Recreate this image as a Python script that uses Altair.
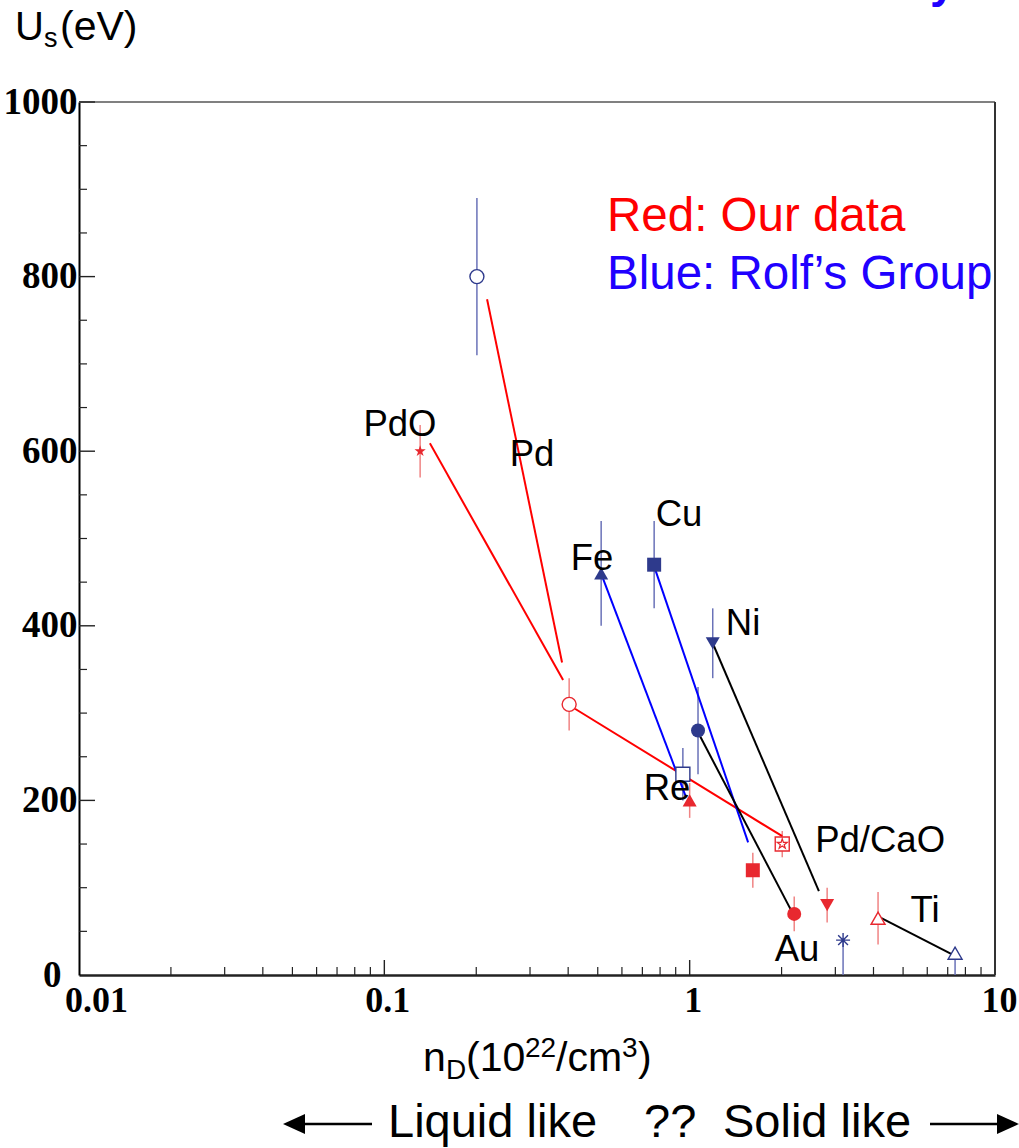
import altair as alt
import pandas as pd

PLOT_W, PLOT_H = 916, 873

# ---------------- data ----------------
# Rolf's group (blue)
rolf_names  = ["Pd", "Fe", "Cu", "Ni", "Au", "Re", "Ti", "unlabeled"]
rolf_nD     = [0.201, 0.513, 0.765, 1.19, 1.065, 0.95, 7.4, 3.18]
rolf_Us     = [800, 460, 470, 380, 280, 230, 25, 40]
rolf_err_up = [90, 60, 50, 40, 50, 30, 0, 0]
rolf_err_dn = [90, 60, 50, 40, 50, 30, 25, 40]

# Our data (red)
our_names = ["PdO", "Pd", "Re", "Cu", "Au", "Ni", "Pd/CaO", "Ti"]
our_nD    = [0.131, 0.403, 1.0, 1.61, 2.2, 2.82, 2.01, 4.14]
our_Us    = [600, 310, 200, 120, 70, 80, 150, 65]
our_err   = [30, 30, 20, 20, 20, 20, 15, 30]

# connecting lines
link_kind = ["ours", "ours", "ours", "rolf", "rolf", "cross", "cross", "cross"]
link_x1 = [0.217, 0.141, 0.421, 0.51, 0.765, 1.19, 1.065, 4.2]
link_y1 = [774, 609, 305, 462, 468, 380, 278, 66]
link_x2 = [0.382, 0.385, 2.01, 0.97, 1.554, 2.65, 2.21, 7.29]
link_y2 = [358, 338, 159, 205, 152, 96, 66, 23]

# element labels
label_text = ["PdO", "Pd", "Fe", "Cu", "Ni", "Re", "Pd/CaO", "Ti", "Au"]
label_nD   = [0.1125, 0.3046, 0.479, 0.923, 1.496, 0.843, 4.205, 5.90, 2.247]
label_Us   = [630, 596, 476, 527, 402, 213, 153, 73, 29]

x_tick_labels = [0.01, 0.1, 1, 10]
y_tick_labels = [0, 200, 400, 600, 800, 1000]

# ---------------- styles ----------------
RED_LINE, BLUE_LINE = "#ff0000", "#0000ff"
RED_MARK, RED_ERR = "#e8282f", "#f08484"
BLUE_MARK, BLUE_ERR = "#2e3a8c", "#6a72b8"
RED_TEXT, BLUE_TEXT = "#ff0000", "#2000ff"
SANS = "Liberation Sans"
SERIF = "Liberation Serif"

ASTERISK = "M-1,0L1,0M0,-1L0,1M-0.7,-0.7L0.7,0.7M-0.7,0.7L0.7,-0.7"
STAR = ("M0,-1L0.2245,-0.309L0.951,-0.309L0.363,0.118L0.588,0.809L0,0.382"
        "L-0.588,0.809L-0.363,0.118L-0.951,-0.309L-0.2245,-0.309Z")

rolf_shape = {"Pd": "circle", "Fe": "triangle-up", "Cu": "square", "Ni": "triangle-down",
              "Au": "circle", "Re": "square", "Ti": "triangle-up", "unlabeled": ASTERISK}
rolf_filled = {"Fe", "Cu", "Ni", "Au"}
our_shape = {"PdO": STAR, "Pd": "circle", "Re": "triangle-up", "Cu": "square",
             "Au": "circle", "Ni": "triangle-down", "Pd/CaO": "square", "Ti": "triangle-up"}
our_filled = {"PdO", "Re", "Cu", "Au", "Ni"}

rolf = pd.DataFrame({"name": rolf_names, "nD": rolf_nD, "Us": rolf_Us})
rolf["lo"] = [u - d for u, d in zip(rolf_Us, rolf_err_dn)]
rolf["hi"] = [u + d for u, d in zip(rolf_Us, rolf_err_up)]
rolf["shape"] = [rolf_shape[n] for n in rolf_names]
rolf["filled"] = [n in rolf_filled for n in rolf_names]

ours = pd.DataFrame({"name": our_names, "nD": our_nD, "Us": our_Us})
ours["lo"] = [u - e for u, e in zip(our_Us, our_err)]
ours["hi"] = [u + e for u, e in zip(our_Us, our_err)]
ours["shape"] = [our_shape[n] for n in our_names]
ours["filled"] = [n in our_filled for n in our_names]

links = pd.DataFrame({"kind": link_kind, "x1": link_x1, "y1": link_y1,
                      "x2": link_x2, "y2": link_y2})
labels = pd.DataFrame({"t": label_text, "nD": label_nD, "Us": label_Us})

x_minor = [m * 10.0 ** e for e in (-2, -1, 0) for m in range(2, 10)]
x_major = [0.1, 1]
y_minor = [v for v in range(50, 1000, 50) if v % 200]
y_major = [200, 400, 600, 800, 1000]

xscale = alt.Scale(type="log", domain=[0.01, 10])
yscale = alt.Scale(domain=[0, 1000])

x_axis = alt.Axis(values=x_tick_labels, format="~g", ticks=False, tickSize=0, grid=False,
                  labelFlush=False, labelOverlap=False, labelPadding=8,
                  labelOffset={"condition": [{"test": "datum.value < 0.05", "value": 17},
                                             {"test": "datum.value > 5", "value": 4}],
                               "value": 3},
                  labelFont=SERIF, labelFontWeight="bold", labelFontSize=36,
                  labelColor="black", domainColor="#222", domainWidth=2.5, title=None)
y_axis = alt.Axis(values=y_tick_labels, format="d", ticks=False, tickSize=0, grid=False,
                  labelPadding={"condition": {"test": "datum.value == 0", "value": 18},
                                "value": 2},
                  labelFont=SERIF, labelFontWeight="bold",
                  labelFontSize=37, labelColor="black", domainColor="black",
                  domainWidth=2, title=None)


def X(f):
    return alt.X(f, type="quantitative", scale=xscale, axis=x_axis)


def Y(f):
    return alt.Y(f, type="quantitative", scale=yscale, axis=y_axis)


one = pd.DataFrame({"k": [0]})

# frame lines (top gray, right dark)
top_line = alt.Chart(one).mark_rule(color="#808080", strokeWidth=2).encode(
    x=alt.value(0), x2=alt.value(PLOT_W), y=alt.value(0))
right_line = alt.Chart(one).mark_rule(color="#333333", strokeWidth=2).encode(
    x=alt.value(PLOT_W), y=alt.value(0), y2=alt.value(PLOT_H))

# inward ticks
xt_minor = alt.Chart(pd.DataFrame({"v": x_minor})).mark_rule(color="#222", strokeWidth=1.2).encode(
    x=X("v"), y=alt.value(PLOT_H), y2=alt.value(PLOT_H - 8))
xt_major = alt.Chart(pd.DataFrame({"v": x_major})).mark_rule(color="#222", strokeWidth=1.4).encode(
    x=X("v"), y=alt.value(PLOT_H), y2=alt.value(PLOT_H - 15))
yt_minor = alt.Chart(pd.DataFrame({"v": y_minor})).mark_rule(color="#222", strokeWidth=1.2).encode(
    y=Y("v"), x=alt.value(0), x2=alt.value(8))
yt_major = alt.Chart(pd.DataFrame({"v": y_major})).mark_rule(color="#222", strokeWidth=1.4).encode(
    y=Y("v"), x=alt.value(0), x2=alt.value(16))

# connecting lines
link_layer = alt.Chart(links).mark_rule(strokeWidth=2).encode(
    x=X("x1"), x2="x2", y=Y("y1"), y2="y2",
    color=alt.Color("kind:N", legend=None,
                    scale=alt.Scale(domain=["ours", "rolf", "cross"],
                                    range=[RED_LINE, BLUE_LINE, "#000000"])))

# error bars
rolf_err_layer = alt.Chart(rolf).mark_rule(color=BLUE_ERR, strokeWidth=1.5).encode(
    x=X("nD"), y=Y("lo"), y2="hi")
our_err_layer = alt.Chart(ours).mark_rule(color=RED_ERR, strokeWidth=1.5).encode(
    x=X("nD"), y=Y("lo"), y2="hi")

# markers
rolf_fill_layer = alt.Chart(rolf).transform_filter("datum.filled").mark_point(
    filled=True, size=196, opacity=1, color=BLUE_MARK).encode(
    x=X("nD"), y=Y("Us"), shape=alt.Shape("shape:N", scale=None))
rolf_open_layer = alt.Chart(rolf).transform_filter("!datum.filled").mark_point(
    filled=False, size=196, opacity=1, color=BLUE_MARK, strokeWidth=1.4, fill="white",
    fillOpacity=1).encode(
    x=X("nD"), y=Y("Us"), shape=alt.Shape("shape:N", scale=None))
our_fill_layer = alt.Chart(ours).transform_filter("datum.filled && datum.name != 'PdO'").mark_point(
    filled=True, size=196, opacity=1, color=RED_MARK).encode(
    x=X("nD"), y=Y("Us"), shape=alt.Shape("shape:N", scale=None))
our_star_layer = alt.Chart(ours).transform_filter("datum.name == 'PdO'").mark_point(
    filled=True, size=140, opacity=1, color=RED_MARK).encode(
    x=X("nD"), y=Y("Us"), shape=alt.Shape("shape:N", scale=None))
our_open_layer = alt.Chart(ours).transform_filter("!datum.filled").mark_point(
    filled=False, size=196, opacity=1, color=RED_MARK, strokeWidth=1.4, fill="white",
    fillOpacity=1).encode(
    x=X("nD"), y=Y("Us"), shape=alt.Shape("shape:N", scale=None))
our_inner_star = alt.Chart(ours).transform_filter("datum.name == 'Pd/CaO'").mark_point(
    filled=False, size=110, opacity=1, color=RED_MARK, strokeWidth=1.2, shape=STAR).encode(
    x=X("nD"), y=Y("Us"))

# element labels
label_layer = alt.Chart(labels).mark_text(
    font=SANS, fontSize=36.5, color="black", align="center", baseline="middle").encode(
    x=X("nD"), y=Y("Us"), text="t:N")


def pix_text(txt, x, y, size, color="black", align="left", baseline="alphabetic",
             weight="normal", font=SANS):
    return alt.Chart(pd.DataFrame({"t": [txt]})).mark_text(
        align=align, baseline=baseline, fontSize=size, font=font, color=color,
        fontWeight=weight).encode(x=alt.value(x), y=alt.value(y), text="t:N")


annotations = [
    pix_text("Red: Our data", 528, 129, 47.5, RED_TEXT),
    pix_text("Blue: Rolf\u2019s Group", 528, 187, 47.5, BLUE_TEXT),
    pix_text("y", 851, -105, 46, BLUE_TEXT, weight="bold"),
    # y title  U_s(eV)
    pix_text("U", -64, -62, 40),
    pix_text("s", -35, -55, 27),
    pix_text("(eV)", -19, -62, 41),
    # x title  n_D(10^22/cm^3)
    pix_text("n", 344, 969, 41),
    pix_text("D", 367, 977, 28),
    pix_text("(10", 387, 969, 41),
    pix_text("22", 446, 955, 28),
    pix_text("/cm", 477, 969, 41),
    pix_text("3", 543, 955, 28),
    pix_text(")", 559, 969, 41),
    # bottom note
    pix_text("Liquid like", 309, 1035, 47),
    pix_text("??", 565, 1035, 47),
    pix_text("Solid like", 644, 1035, 47),
]

arrow_left = alt.Chart(one).mark_rule(color="black", strokeWidth=2.5).encode(
    x=alt.value(221), x2=alt.value(293), y=alt.value(1022))
arrow_right = alt.Chart(one).mark_rule(color="black", strokeWidth=2.5).encode(
    x=alt.value(851), x2=alt.value(921), y=alt.value(1022))
head_left = alt.Chart(one).mark_point(
    shape="M-1,0L1,-0.9L1,0.9Z", filled=True, size=484, opacity=1, color="black").encode(
    x=alt.value(215), y=alt.value(1022))
head_right = alt.Chart(one).mark_point(
    shape="M1,0L-1,-0.9L-1,0.9Z", filled=True, size=484, opacity=1, color="black").encode(
    x=alt.value(929), y=alt.value(1022))

chart = alt.layer(
    rolf_err_layer, our_err_layer,
    top_line, right_line, xt_minor, xt_major, yt_minor, yt_major,
    link_layer,
    rolf_open_layer, rolf_fill_layer,
    our_open_layer, our_inner_star, our_fill_layer, our_star_layer,
    label_layer,
    *annotations,
    arrow_left, arrow_right, head_left, head_right,
).properties(
    width=PLOT_W, height=PLOT_H,
    autosize=alt.AutoSizeParams(type="none"),
    padding={"left": 79, "top": 102, "right": 24, "bottom": 173},
    background="white",
).configure_view(stroke=None)

chart.save("out.html", embed_options={"renderer": "svg", "actions": False})
